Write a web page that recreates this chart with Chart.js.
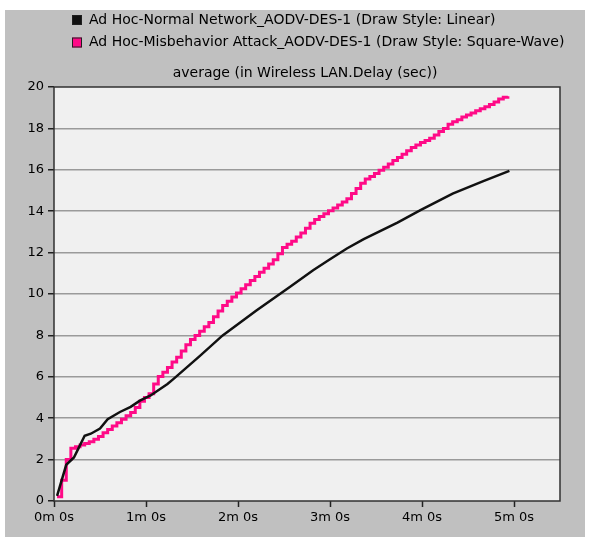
<!DOCTYPE html>
<html>
<head>
<meta charset="utf-8">
<script src="https://cdn.jsdelivr.net/npm/chart.js@4/dist/chart.umd.min.js"></script>
<style>
  html, body { margin: 0; padding: 0; background: #ffffff; }
  #wrap { width: 589px; height: 545px; }
</style>
</head>
<body>
<div id="wrap"><canvas id="chart" width="589" height="545"></canvas></div>
<script>
// Average Wireless LAN delay (sec) over simulation time (sec)
const seriesNames = [
  'Ad Hoc-Normal Network_AODV-DES-1 (Draw Style: Linear)',
  'Ad Hoc-Misbehavior Attack_AODV-DES-1 (Draw Style: Square-Wave)'
];
const chartTitle = 'average (in Wireless LAN.Delay (sec))';

// Normal network, linear
const normalTime  = [2, 8, 13, 17, 20, 24, 30, 35, 43, 50, 56, 63, 74, 78, 95, 110, 132, 154, 169, 180, 191, 202, 224, 239, 260, 280, 297];
const normalDelay = [0.25, 1.75, 2.1, 2.7, 3.15, 3.25, 3.5, 3.95, 4.3, 4.55, 4.85, 5.1, 5.65, 5.9, 7.0, 8.0, 9.2, 10.35, 11.15, 11.68, 12.2, 12.65, 13.45, 14.05, 14.85, 15.45, 15.95];

// Misbehavior attack, square-wave
const attackTime = [
  2, 5, 8, 11, 14, 17, 20, 23, 26, 29, 32, 35, 38, 41, 44, 47, 50, 53, 56, 59,
  62, 65, 68, 71, 74, 77, 80, 83, 86, 89, 92, 95, 98, 101, 104, 107, 110, 113, 116, 119,
  122, 125, 128, 131, 134, 137, 140, 143, 146, 149, 152, 155, 158, 161, 164, 167, 170, 173, 176, 179,
  182, 185, 188, 191, 194, 197, 200, 203, 206, 209, 212, 215, 218, 221, 224, 227, 230, 233, 236, 239,
  242, 245, 248, 251, 254, 257, 260, 263, 266, 269, 272, 275, 278, 281, 284, 287, 290, 293, 296
];
const attackDelay = [
  0.20, 1.00, 2.00, 2.55, 2.62, 2.70, 2.78, 2.86, 2.98, 3.12, 3.30, 3.45, 3.62, 3.78, 3.95, 4.12, 4.28, 4.52, 4.82, 5.00,
  5.18, 5.65, 6.02, 6.22, 6.45, 6.72, 6.95, 7.25, 7.55, 7.80, 8.00, 8.20, 8.42, 8.62, 8.90, 9.18, 9.45, 9.65, 9.85, 10.05,
  10.25, 10.45, 10.65, 10.85, 11.05, 11.25, 11.45, 11.65, 11.95, 12.25, 12.40, 12.55, 12.75, 12.95, 13.18, 13.42, 13.60, 13.75, 13.88, 14.02,
  14.15, 14.30, 14.45, 14.60, 14.85, 15.10, 15.35, 15.55, 15.68, 15.82, 15.98, 16.12, 16.28, 16.45, 16.60, 16.75, 16.92, 17.08, 17.20, 17.32,
  17.42, 17.52, 17.68, 17.85, 18.00, 18.20, 18.32, 18.42, 18.55, 18.65, 18.75, 18.85, 18.95, 19.05, 19.15, 19.28, 19.42, 19.50, 19.55
];

// Axis ticks
const xTickValues = [0, 60, 120, 180, 240, 300];
const xTickLabels = ['0m 0s', '1m 0s', '2m 0s', '3m 0s', '4m 0s', '5m 0s'];
const yTickValues = [0, 2, 4, 6, 8, 10, 12, 14, 16, 18, 20];
const yTickLabels = ['0', '2', '4', '6', '8', '10', '12', '14', '16', '18', '20'];

const FONT = '"DejaVu Sans", Verdana, sans-serif';
const COLORS = ['#111111', '#ff0a87'];

const toPoints = (xs, ys) => xs.map((x, i) => ({ x: x, y: ys[i] }));

// Panel background, plot frame, legend and heading
const framePlugin = {
  id: 'frame',
  beforeDraw(chart) {
    const { ctx, chartArea: a } = chart;
    ctx.save();
    ctx.fillStyle = '#c0c0c0';
    ctx.fillRect(5, 10, 580, 527);
    ctx.fillStyle = '#f0f0f0';
    ctx.fillRect(a.left, a.top, a.right - a.left, a.bottom - a.top);
    ctx.restore();
  },
  afterDraw(chart) {
    const { ctx, chartArea: a } = chart;
    ctx.save();
    ctx.strokeStyle = '#303030';
    ctx.lineWidth = 1.5;
    ctx.strokeRect(a.left, a.top, a.right - a.left, a.bottom - a.top);

    ctx.font = '14px ' + FONT;
    ctx.textBaseline = 'middle';
    ctx.textAlign = 'left';
    chart.data.datasets.forEach((ds, i) => {
      const y = 20 + i * 22.5;
      ctx.fillStyle = ds.borderColor;
      ctx.fillRect(72, y - 5, 10, 10);
      ctx.strokeStyle = '#202020';
      ctx.lineWidth = 1;
      ctx.strokeRect(72.5, y - 4.5, 9, 9);
      ctx.fillStyle = '#000000';
      ctx.fillText(ds.label, 89, y);
    });

    ctx.textAlign = 'center';
    ctx.fillText(chartTitle, 305, 73);
    ctx.restore();
  }
};

new Chart(document.getElementById('chart'), {
  type: 'line',
  data: {
    datasets: [
      {
        label: seriesNames[0],
        data: toPoints(normalTime, normalDelay),
        borderColor: COLORS[0],
        backgroundColor: COLORS[0],
        borderWidth: 2.5,
        pointRadius: 0,
        tension: 0,
        fill: false
      },
      {
        label: seriesNames[1],
        data: toPoints(attackTime, attackDelay),
        borderColor: COLORS[1],
        backgroundColor: COLORS[1],
        borderWidth: 3,
        pointRadius: 0,
        stepped: 'before',
        fill: false
      }
    ]
  },
  options: {
    responsive: false,
    devicePixelRatio: 1,
    animation: false,
    events: [],
    layout: { padding: { left: 0, top: 87, right: 29, bottom: 14 } },
    plugins: { legend: { display: false }, title: { display: false }, tooltip: { enabled: false } },
    scales: {
      x: {
        type: 'linear',
        min: 0,
        max: 330,
        afterBuildTicks(scale) { scale.ticks = xTickValues.map(v => ({ value: v })); },
        afterFit(scale) { scale.height = 30; },
        border: { display: false },
        grid: { drawOnChartArea: false, drawTicks: true, tickLength: 6, tickColor: '#202020', tickWidth: 1.5 },
        ticks: {
          color: '#000000',
          font: { family: FONT, size: 13 },
          padding: 3,
          maxRotation: 0,
          autoSkip: false,
          callback: (v, i) => xTickLabels[i]
        }
      },
      y: {
        type: 'linear',
        min: 0,
        max: 20,
        afterBuildTicks(scale) { scale.ticks = yTickValues.map(v => ({ value: v })); },
        afterFit(scale) { scale.width = 54; },
        border: { display: false },
        grid: {
          color: ctx => (ctx.tick && (ctx.tick.value === 0 || ctx.tick.value === 20)) ? 'rgba(0,0,0,0)' : '#9a9a9a',
          lineWidth: 1.5,
          drawTicks: true,
          tickLength: 6,
          tickColor: '#202020',
          tickWidth: 1.5
        },
        ticks: {
          color: '#000000',
          font: { family: FONT, size: 13 },
          padding: 4,
          autoSkip: false,
          callback: (v, i) => yTickLabels[i]
        }
      }
    }
  },
  plugins: [framePlugin]
});
</script>
</body>
</html>
